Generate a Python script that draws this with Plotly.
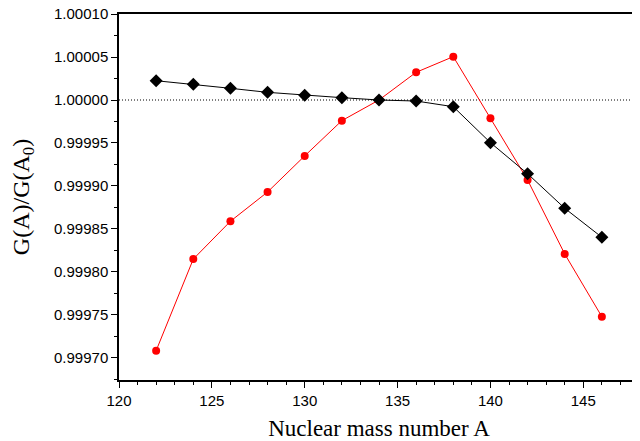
import plotly.graph_objects as go

mass_number = [122, 124, 126, 128, 130, 132, 134, 136, 138, 140, 142, 144, 146]
black_ratio = [1.0000224, 1.0000183, 1.0000136, 1.0000089, 1.0000054, 1.0000027, 1.0000000,
               0.9999988, 0.9999922, 0.9999504, 0.9999143, 0.9998741, 0.9998404]
red_ratio = [0.9997085, 0.9998150, 0.9998590, 0.9998930, 0.9999350, 0.9999760, 1.0000000,
             1.0000322, 1.0000504, 0.9999787, 0.9999070, 0.9998210, 0.9997480]

x_ticks = [120, 125, 130, 135, 140, 145]
y_ticks = [0.99970, 0.99975, 0.99980, 0.99985, 0.99990, 0.99995, 1.00000, 1.00005, 1.00010]

fig = go.Figure()
fig.add_trace(go.Scatter(x=mass_number, y=red_ratio, mode="lines+markers",
                         line=dict(color="#ff0000", width=1),
                         marker=dict(symbol="circle", size=8, color="#ff0000")))
fig.add_trace(go.Scatter(x=mass_number, y=black_ratio, mode="lines+markers",
                         line=dict(color="black", width=1),
                         marker=dict(symbol="diamond", size=10, color="black")))

fig.add_shape(type="line", xref="paper", yref="y", x0=0, x1=1, y0=1.0, y1=1.0,
              line=dict(color="black", width=1, dash="1px,2px"), layer="below")

# page body has an 8px default margin, so the figure is sized/offset to compensate
fig.update_layout(
    width=632, height=433,
    margin=dict(l=111, r=1, t=6, b=61, autoexpand=False),
    paper_bgcolor="white", plot_bgcolor="white",
    showlegend=False,
    font=dict(family="Liberation Sans, Arial", size=15, color="black"),
)
fig.update_xaxes(
    range=[120, 148], tickvals=x_ticks, ticktext=[str(v) for v in x_ticks],
    ticks="outside", ticklen=6, tickwidth=1, tickcolor="black",
    minor=dict(dtick=1, ticks="outside", ticklen=3, tickcolor="black"),
    showline=True, linecolor="black", linewidth=1.5, mirror=True,
    showgrid=False, zeroline=False, automargin=False, ticklabeloverflow="allow",
    title=dict(text="Nuclear mass number A", standoff=14,
               font=dict(family="Liberation Serif, Times New Roman", size=23)),
)
fig.update_yaxes(
    range=[0.9996744, 1.0001], tickvals=y_ticks, ticktext=[f"{v:.5f}" for v in y_ticks],
    ticks="outside", ticklen=6, tickwidth=1, tickcolor="black",
    minor=dict(dtick=0.000025, tick0=0.9997, ticks="outside", ticklen=3, tickcolor="black"),
    showline=True, linecolor="black", linewidth=1.5, mirror=True,
    showgrid=False, zeroline=False, automargin=False, ticklabeloverflow="allow",
    title=dict(text="G(A)/G(A<sub>0</sub>)", standoff=20,
               font=dict(family="Liberation Serif, Times New Roman", size=24)),
)

fig.write_html("out.html")
